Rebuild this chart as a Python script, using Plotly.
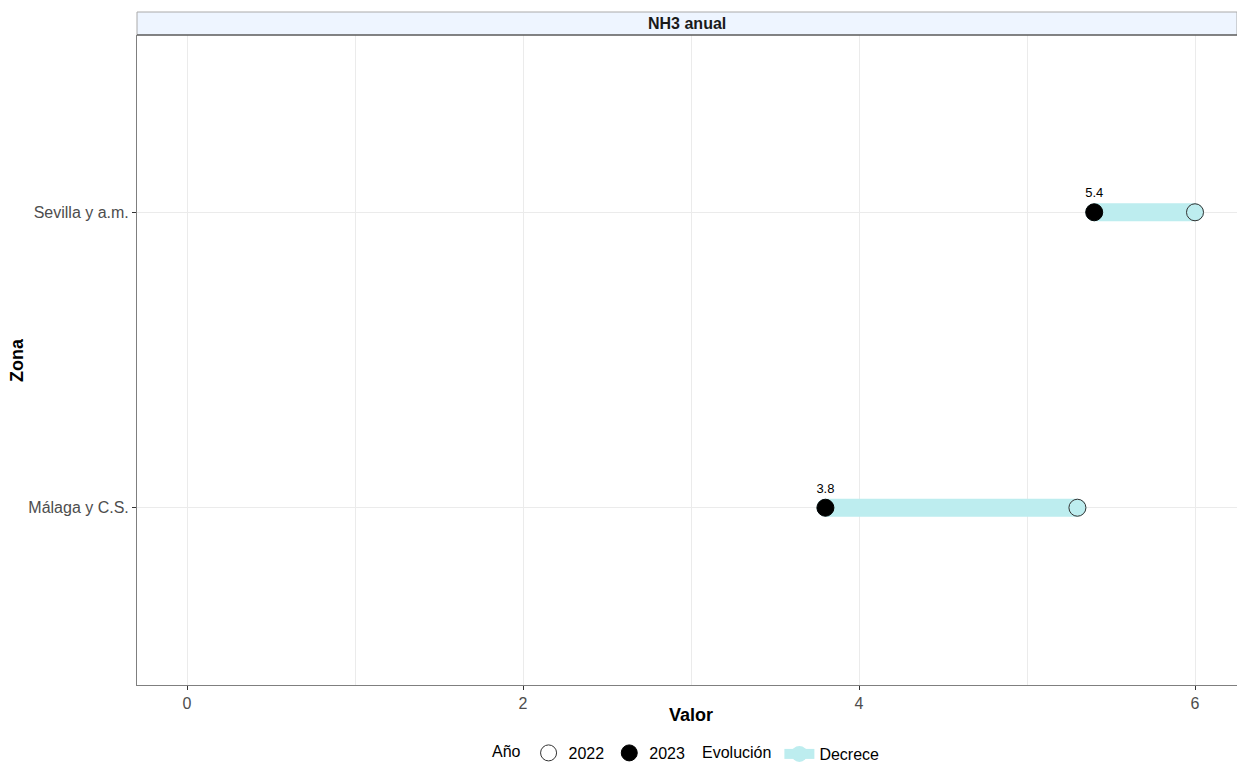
import plotly.graph_objects as go

# data
zonas = ["Málaga y C.S.", "Sevilla y a.m."]
valor_2022 = [5.3, 6.0]
valor_2023 = [3.8, 5.4]
x_ticks = [0, 2, 4, 6]
titulo = "NH3 anual"

FONT = "Liberation Sans, Arial, sans-serif"
CYAN = "#BDEDEF"

fig = go.Figure()

# segments (evolution)
for i, z in enumerate(zonas):
    fig.add_trace(go.Scatter(
        x=[valor_2023[i], valor_2022[i]], y=[z, z],
        mode="lines+markers",
        line=dict(color=CYAN, width=18),
        marker=dict(color=CYAN, size=18),
        name="Decrece", legendgroup="evo", legend="legend2",
        showlegend=(i == 0), hoverinfo="skip",
    ))

fig.add_trace(go.Scatter(
    x=valor_2022, y=zonas, mode="markers", name="2022",
    marker=dict(symbol="circle", size=17, color="rgba(0,0,0,0)",
                line=dict(color="#333333", width=1)),
    legend="legend",
))
fig.add_trace(go.Scatter(
    x=valor_2023, y=zonas, mode="markers+text", name="2023",
    marker=dict(symbol="circle", size=17, color="black",
                line=dict(color="black", width=1)),
    text=[f"{v:.1f}" for v in valor_2023], textposition="top center",
    textfont=dict(family=FONT, size=13, color="black"),
    legend="legend",
))

fig.update_layout(
    width=1237, height=762,
    margin=dict(l=137, r=0, t=35, b=77, autoexpand=False),
    paper_bgcolor="white", plot_bgcolor="white",
    font=dict(family=FONT, size=16, color="#4D4D4D"),
    xaxis=dict(
        range=[-0.298, 6.25], tickvals=x_ticks, showgrid=True, automargin=False,
        gridcolor="#EBEBEB", gridwidth=1, zeroline=False,
        showline=True, linecolor="#7F7F7F", linewidth=1,
        ticks="outside", ticklen=4, tickcolor="#333333",
        tickfont=dict(size=16, color="#4D4D4D"),
        minor=dict(tickvals=[1, 3, 5], showgrid=True, gridcolor="#EBEBEB", ticks=""),
    ),
    yaxis=dict(
        type="category", categoryorder="array", categoryarray=zonas, automargin=False,
        range=[-0.6, 1.6], showgrid=True, gridcolor="#EBEBEB",
        showline=True, linecolor="#7F7F7F", linewidth=1,
        ticks="outside", ticklen=4, tickcolor="#333333",
        tickfont=dict(size=16, color="#4D4D4D"),
    ),
    legend=dict(
        orientation="h", xref="container", yref="container",
        x=490 / 1237, xanchor="left", y=9 / 762, yanchor="middle",
        title=dict(text="Año", font=dict(size=16, color="black")),
        font=dict(size=16, color="black"), itemwidth=30,
    ),
    legend2=dict(
        orientation="h", xref="container", yref="container",
        x=700 / 1237, xanchor="left", y=8 / 762, yanchor="middle",
        title=dict(text="Evolución", font=dict(size=16, color="black")),
        font=dict(size=16, color="black"), itemwidth=30,
    ),
    showlegend=True,
)

# axis titles
fig.add_annotation(text="<b>Zona</b>", xref="paper", yref="paper", x=-120 / 1100, y=0.5,
                   textangle=-90, showarrow=False, xanchor="center",
                   font=dict(size=18, color="black"))
fig.add_annotation(text="<b>Valor</b>", xref="paper", yref="paper", x=(691 - 137) / 1100,
                   y=-30 / 650, yanchor="middle", showarrow=False,
                   font=dict(size=18, color="black"))

# facet strip
fig.add_shape(type="rect", xref="paper", yref="paper", x0=0, x1=1, y0=1, y1=1 + 23 / 650,
              fillcolor="#EEF5FF", line=dict(color="#AAAAAA", width=1), layer="above")
fig.add_shape(type="line", xref="paper", yref="paper", x0=0, x1=1, y0=1, y1=1,
              line=dict(color="#333333", width=1.2))
fig.add_annotation(text="<b>" + titulo + "</b>", xref="paper", yref="paper", x=0.5,
                   y=1 + 11.5 / 650, yanchor="middle", showarrow=False,
                   font=dict(size=16, color="#1A1A1A"))

fig.write_html("out.html", config={"displayModeBar": False},
               post_script="document.body.style.margin='0';")
